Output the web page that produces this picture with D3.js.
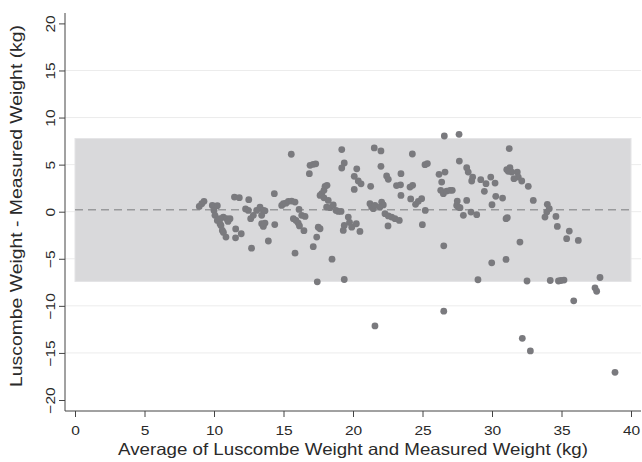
<!DOCTYPE html>
<html><head><meta charset="utf-8">
<script src="https://cdn.jsdelivr.net/npm/d3@7"></script>
<style>body{margin:0;background:#fff}svg{display:block}text{font-family:"Liberation Sans",Arial,sans-serif;fill:#2a2a2a}</style>
</head><body><svg id="c" width="642" height="462"></svg>
<script>
const avgWeight = [8.94,9.12,9.28,9.88,10.24,10.00,10.07,10.24,10.43,10.67,10.91,10.50,10.60,10.68,10.86,11.55,11.56,11.96,11.47,11.82,12.50,12.70,12.27,12.47,12.64,12.83,13.07,11.15,11.01,10.43,
13.31,13.55,13.43,13.67,13.43,13.55,13.67,13.91,14.34,14.37,14.87,14.99,15.18,15.35,15.59,15.83,16.12,16.31,15.71,15.90,16.06,16.15,16.47,15.83,15.56,16.55,
16.91,17.14,17.32,16.86,17.39,17.50,17.63,17.14,18.49,17.43,17.63,17.75,17.91,17.99,18.13,17.91,18.22,18.10,18.35,18.58,18.78,18.94,19.14,19.19,19.37,19.19,19.66,19.75,19.37,19.30,19.91,20.24,20.50,19.37,
20.27,20.09,20.38,20.58,20.09,21.53,22.01,22.01,22.42,22.54,21.27,21.22,21.34,21.46,21.58,22.06,22.18,21.94,22.30,22.54,22.78,23.02,23.33,22.52,21.58,23.45,23.13,23.42,23.45,24.10,24.29,24.15,24.50,24.70,24.94,24.27,25.18,25.35,25.20,24.99,
26.57,27.63,26.19,26.62,26.38,26.31,26.50,26.74,26.98,27.14,26.53,26.53,27.65,28.18,28.29,28.61,28.54,29.19,29.57,29.45,29.91,30.22,30.27,30.00,27.50,27.46,27.58,27.70,28.18,27.94,28.49,28.90,28.99,29.98,30.76,
31.24,31.06,31.29,31.42,31.17,31.82,31.89,32.14,31.58,32.61,32.97,31.01,31.10,32.01,31.01,32.52,32.18,32.76,33.98,34.12,33.94,33.81,34.60,34.70,35.56,35.37,36.21,34.19,34.78,34.96,35.18,35.88,37.41,37.53,37.77,38.85];
const weightDiff = [0.56,0.85,1.10,0.67,0.64,0.14,-0.39,-0.93,-1.28,-0.57,-0.74,-1.46,-1.99,-2.20,-2.70,-2.77,-1.83,-2.34,1.55,1.49,1.28,-3.87,0.30,0.14,-0.74,-0.39,0.14,-0.74,-1.03,-0.74,
0.49,0.14,-0.39,0.09,-1.28,-1.56,-1.21,-3.11,1.91,-1.37,0.67,0.85,0.91,1.10,1.13,1.02,0.24,-0.39,-0.74,-0.93,-1.21,-1.51,-2.02,-4.40,6.10,-0.50,
4.93,5.03,5.09,4.04,-2.70,-1.64,-1.81,-3.72,-5.04,-7.45,1.73,1.91,2.27,2.69,2.80,1.47,1.20,0.49,0.43,0.72,0.14,0.03,0.03,6.60,5.17,4.64,-0.57,-1.14,-1.46,-1.99,-1.64,-1.28,-2.10,-7.20,
4.55,3.76,3.26,2.96,2.37,6.77,6.45,4.82,3.79,3.44,2.69,0.85,0.51,0.32,0.67,1.02,0.72,0.49,-0.21,-0.45,-0.57,-0.74,-0.93,-1.51,-12.13,4.04,2.78,2.85,1.73,2.62,2.80,1.36,0.78,1.10,1.38,6.13,5.00,5.11,0.14,-1.38,
8.04,8.22,3.97,4.21,3.15,2.27,1.91,2.19,2.27,2.27,-3.62,-10.57,5.38,4.68,4.21,3.68,3.26,3.40,2.98,2.16,3.68,3.04,1.63,0.74,1.13,0.67,0.49,0.43,1.20,-0.39,-0.04,-0.32,-7.23,-5.43,1.45,
6.70,4.47,4.68,4.21,4.29,4.21,3.68,3.26,3.51,2.69,1.20,-0.74,-0.64,-3.23,-5.07,-7.36,-13.45,-14.79,0.78,0.32,-0.04,-0.57,-0.50,-1.56,-2.06,-2.87,-3.05,-7.31,-7.36,-7.31,-7.26,-9.47,-8.09,-8.45,-6.99,-17.06];
const meanDiff = 0.21;
const limitsOfAgreement = [-7.41, 7.77];
const xTicks = [0,5,10,15,20,25,30,35,40];
const yTicks = [-20,-15,-10,-5,0,5,10,15,20];
const gridTicks = [-15,-10,-5,0,5,10,15];
const xTitle = "Average of Luscombe Weight and Measured Weight (kg)";
const yTitle = "Luscombe Weight - Measured Weight (kg)";

const svg = d3.select("#c");
const x = d3.scaleLinear().domain([0,40]).range([75,631]);
const y = d3.scaleLinear().domain([-20,20]).range([400,23.4]);
const pLeft = 65, pBottom = 411, pTop = 13, pRight = 641;
const stretch = 1.15;

svg.append("g").selectAll("line").data(gridTicks).join("line")
  .attr("x1",pLeft).attr("x2",pRight).attr("y1",d=>y(d)).attr("y2",d=>y(d))
  .attr("stroke","#ececec").attr("stroke-width",1);

svg.append("rect").attr("x",x(0)).attr("width",x(40)-x(0))
  .attr("y",y(limitsOfAgreement[1])).attr("height",y(limitsOfAgreement[0])-y(limitsOfAgreement[1]))
  .attr("fill","#d9d9db").attr("stroke","#e4e4e6").attr("stroke-width",1);

svg.append("line").attr("x1",x(0)).attr("x2",x(40)).attr("y1",y(meanDiff)).attr("y2",y(meanDiff))
  .attr("stroke","#999a9c").attr("stroke-width",1.6).attr("stroke-dasharray","8,5");

svg.append("g").selectAll("circle").data(avgWeight).join("circle")
  .attr("cx",d=>x(d)).attr("cy",(d,i)=>y(weightDiff[i])).attr("r",3.4)
  .attr("fill","#7a7a7e");

const xa = svg.append("g").attr("transform",`translate(0,${pBottom})`)
  .call(d3.axisBottom(x).tickValues(xTicks).tickSize(6).tickFormat(d3.format("d")));
xa.select(".domain").remove();
xa.selectAll("line").attr("stroke","#444");
xa.selectAll("text").attr("font-size",13.5).attr("fill","#2a2a2a")
  .attr("y",0).attr("dy",0).attr("text-anchor","middle")
  .attr("transform",`translate(0,23.6) scale(${stretch},1)`);
svg.append("line").attr("x1",pLeft).attr("x2",pRight).attr("y1",pBottom).attr("y2",pBottom).attr("stroke","#444").attr("stroke-width",1);

const ya = svg.append("g").attr("transform",`translate(${pLeft},0)`)
  .call(d3.axisLeft(y).tickValues(yTicks).tickSize(6).tickFormat(d=>d<0?"\u2212"+Math.abs(d):d));
ya.select(".domain").remove();
ya.selectAll("line").attr("stroke","#444");
ya.selectAll("text").attr("font-size",13.5).attr("fill","#2a2a2a")
  .attr("x",0).attr("y",0).attr("dy",0).attr("text-anchor","middle")
  .attr("transform",`translate(-10,0) rotate(-90) scale(${stretch},1)`);
svg.append("line").attr("x1",pLeft).attr("x2",pLeft).attr("y1",pTop).attr("y2",pBottom).attr("stroke","#444").attr("stroke-width",1);

svg.append("text").attr("x",353).attr("y",454.5).attr("text-anchor","middle").attr("font-size",16.5)
  .attr("textLength",470).attr("lengthAdjust","spacingAndGlyphs").text(xTitle);
svg.append("text").attr("transform","translate(22,206) rotate(-90)").attr("text-anchor","middle").attr("font-size",16.5)
  .attr("textLength",362).attr("lengthAdjust","spacingAndGlyphs").text(yTitle);
</script></body></html>
